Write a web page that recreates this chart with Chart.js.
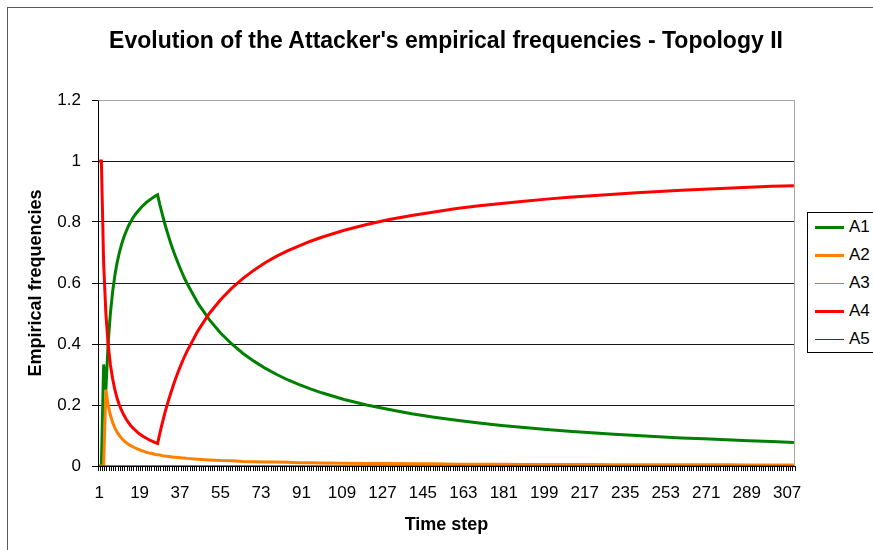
<!DOCTYPE html>
<html>
<head>
<meta charset="utf-8">
<title>Attacker empirical frequencies - Topology II</title>
<script src="https://cdn.jsdelivr.net/npm/chart.js@4/dist/chart.umd.min.js"></script>
<style>
  html, body { margin: 0; padding: 0; background: #fff; }
  #wrap { position: relative; width: 873px; height: 550px; overflow: hidden;
          font-family: "Liberation Sans", Arial, sans-serif; background: #fff; }
  #frame { position: absolute; left: 7px; top: 7px; width: 900px; height: 600px;
           border-left: 1px solid #5a5a5a; border-top: 1px solid #5a5a5a; }
  #chart { position: absolute; left: 0; top: 0; }
  #title { position: absolute; left: 46px; width: 800px; top: 26px; height: 28px;
           text-align: center; font-size: 23px; line-height: 28px; font-weight: bold; color: #000;
           white-space: nowrap; }
  #legend { position: absolute; left: 807px; top: 212px; width: 80px; height: 139px;
            border: 1px solid #000; background: #fff; }
  #legend .swatch { position: absolute; left: 7px; width: 29px; }
  #legend .name { position: absolute; left: 41px; font-size: 17px; line-height: 20px; color: #000; }
</style>
</head>
<body>
<div id="wrap">
  <div id="frame"></div>
  <canvas id="chart" width="873" height="550"></canvas>
  <div id="title">Evolution of the Attacker's empirical frequencies - Topology II</div>
  <div id="legend"></div>
</div>
<script>
// Time steps at which the frequencies are recorded
const steps = [
  1, 2, 3, 4, 5, 6, 7, 8, 9, 10,
  11, 12, 13, 14, 15, 16, 17, 18, 19, 20,
  21, 22, 23, 24, 25, 26, 27, 28, 29, 30,
  31, 32, 33, 34, 35, 36, 37, 38, 39, 40,
  45, 50, 55, 60, 65, 70, 75, 80, 85, 90, 95, 100,
  110, 120, 130, 140, 150, 160, 170, 180, 190, 200,
  210, 220, 230, 240, 250, 260, 270, 280, 290, 300, 310
];

// Empirical frequency of action A1
const a1 = [
  0, 0, 0.333, 0.25, 0.4, 0.5, 0.571, 0.625, 0.667, 0.7,
  0.727, 0.75, 0.769, 0.786, 0.8, 0.813, 0.824, 0.833, 0.842, 0.85,
  0.857, 0.864, 0.87, 0.875, 0.88, 0.885, 0.889, 0.857, 0.828, 0.8,
  0.774, 0.75, 0.727, 0.706, 0.686, 0.667, 0.649, 0.632, 0.615, 0.6,
  0.533, 0.48, 0.436, 0.4, 0.369, 0.343, 0.32, 0.3, 0.282, 0.267, 0.253, 0.24,
  0.218, 0.2, 0.185, 0.171, 0.16, 0.15, 0.141, 0.133, 0.126, 0.12,
  0.114, 0.109, 0.104, 0.1, 0.096, 0.092, 0.089, 0.086, 0.083, 0.08, 0.077
];

// Empirical frequency of action A2
const a2 = [
  0, 0, 0, 0.25, 0.2, 0.167, 0.143, 0.125, 0.111, 0.1,
  0.091, 0.083, 0.077, 0.071, 0.067, 0.063, 0.059, 0.056, 0.053, 0.05,
  0.048, 0.045, 0.043, 0.042, 0.04, 0.038, 0.037, 0.036, 0.034, 0.033,
  0.032, 0.031, 0.03, 0.029, 0.029, 0.028, 0.027, 0.026, 0.026, 0.025,
  0.022, 0.02, 0.018, 0.017, 0.015, 0.014, 0.013, 0.013, 0.012, 0.011, 0.011, 0.01,
  0.009, 0.008, 0.008, 0.007, 0.007, 0.006, 0.006, 0.006, 0.005, 0.005,
  0.005, 0.005, 0.004, 0.004, 0.004, 0.004, 0.004, 0.004, 0.003, 0.003, 0.003
];

// Empirical frequency of action A4
const a4 = [
  1, 1, 0.667, 0.5, 0.4, 0.333, 0.286, 0.25, 0.222, 0.2,
  0.182, 0.167, 0.154, 0.143, 0.133, 0.125, 0.118, 0.111, 0.105, 0.1,
  0.095, 0.091, 0.087, 0.083, 0.08, 0.077, 0.074, 0.107, 0.138, 0.167,
  0.194, 0.219, 0.242, 0.265, 0.286, 0.306, 0.324, 0.342, 0.359, 0.375,
  0.444, 0.5, 0.545, 0.583, 0.615, 0.643, 0.667, 0.688, 0.706, 0.722, 0.737, 0.75,
  0.773, 0.792, 0.808, 0.821, 0.833, 0.844, 0.853, 0.861, 0.868, 0.875,
  0.881, 0.886, 0.891, 0.896, 0.9, 0.904, 0.907, 0.911, 0.914, 0.917, 0.919
];

// A3 and A5 are never played: flat at zero over the whole run
const flatSteps = [1, 310];
const a3 = [0, 0];
const a5 = [0, 0];

// Category axis: one category per time step, labelled every 18 steps
const lastStep = 310;
const stepLabels = Array.from({ length: lastStep }, (_, i) => i + 1);
const shownTicks = [1, 19, 37, 55, 73, 91, 109, 127, 145, 163, 181, 199, 217, 235, 253, 271, 289, 307];
const yTicks = [0, 0.2, 0.4, 0.6, 0.8, 1, 1.2];

const FONT = '"Liberation Sans", Arial, sans-serif';
Chart.defaults.font.family = FONT;
Chart.defaults.color = '#000';

function points(xs, ys) {
  return xs.map((x, i) => ({ x: x, y: ys[i] }));
}

const series = [
  { label: 'A1', xs: steps,     ys: a1, color: '#008000', width: 3 },
  { label: 'A2', xs: steps,     ys: a2, color: '#ff8000', width: 3 },
  { label: 'A3', xs: flatSteps, ys: a3, color: '#c07848', width: 1 },
  { label: 'A4', xs: steps,     ys: a4, color: '#ff0000', width: 3 },
  { label: 'A5', xs: flatSteps, ys: a5, color: '#800080', width: 1 }
];

// Light frame on the top and right sides of the plot area
const plotFrame = {
  id: 'plotFrame',
  beforeDatasetsDraw(chart) {
    const { ctx, chartArea: a } = chart;
    ctx.save();
    ctx.strokeStyle = '#a6a6a6';
    ctx.lineWidth = 1;
    ctx.beginPath();
    ctx.moveTo(Math.round(a.left) + 0.5, Math.round(a.top) + 0.5);
    ctx.lineTo(Math.round(a.right) - 0.5, Math.round(a.top) + 0.5);
    ctx.lineTo(Math.round(a.right) - 0.5, Math.round(a.bottom));
    ctx.stroke();
    ctx.restore();
  }
};

const chart = new Chart(document.getElementById('chart'), {
  type: 'line',
  data: {
    labels: stepLabels,
    datasets: series.map((s, i) => ({
      label: s.label,
      data: points(s.xs, s.ys),
      borderColor: s.color,
      backgroundColor: s.color,
      borderWidth: s.width,
      pointRadius: 0,
      tension: 0,
      fill: false,
      order: series.length - i
    }))
  },
  options: {
    responsive: false,
    animation: false,
    devicePixelRatio: 1,
    layout: { padding: { left: 0, right: 78, top: 100, bottom: 0 } },
    plugins: {
      legend: { display: false },
      tooltip: { enabled: false },
      title: { display: false }
    },
    scales: {
      x: {
        type: 'category',
        offset: true,
        z: 1,
        grid: { display: true, drawOnChartArea: false, drawTicks: true, tickLength: 5, color: '#000', offset: true },
        border: { display: true, color: '#000', width: 1 },
        ticks: {
          autoSkip: false, maxRotation: 0, minRotation: 0, padding: 12,
          color: '#000', font: { size: 17 },
          callback: function (value, index) {
            const lab = stepLabels[index];
            return shownTicks.includes(lab) ? String(lab) : '';
          }
        },
        title: {
          display: true, text: 'Time step', color: '#000',
          font: { size: 18, weight: 'bold' }, padding: { top: 0, bottom: 14 }
        },
        afterFit(scale) { scale.height = 84; }
      },
      y: {
        min: 0,
        max: 1.2,
        afterBuildTicks(scale) { scale.ticks = yTicks.map(v => ({ value: v })); },
        grid: {
          color: (ctx) => (ctx.tick && ctx.tick.value >= 1.19 ? '#a6a6a6' : '#1a1a1a'),
          tickColor: '#000',
          tickLength: 6,
          lineWidth: 1
        },
        border: { display: true, color: '#000', width: 1 },
        ticks: {
          padding: 11, color: '#000', font: { size: 17 },
          callback: (v) => String(Number(v.toFixed(1)))
        },
        title: {
          display: true, text: 'Empirical frequencies', color: '#000',
          font: { size: 18, weight: 'bold' }, padding: { top: 25, bottom: 0 }
        },
        afterFit(scale) { scale.width = 98; }
      }
    }
  },
  plugins: [plotFrame]
});

// Legend box built from the chart's datasets
const legendEl = document.getElementById('legend');
chart.data.datasets.forEach((ds, i) => {
  const rowCenter = 14 + i * 28;
  const sw = document.createElement('div');
  sw.className = 'swatch';
  sw.style.top = Math.round(rowCenter - ds.borderWidth / 2) + 'px';
  sw.style.height = ds.borderWidth + 'px';
  sw.style.background = ds.borderColor;
  legendEl.appendChild(sw);
  const nm = document.createElement('div');
  nm.className = 'name';
  nm.style.top = (rowCenter - 10) + 'px';
  nm.textContent = ds.label;
  legendEl.appendChild(nm);
});
</script>
</body>
</html>
